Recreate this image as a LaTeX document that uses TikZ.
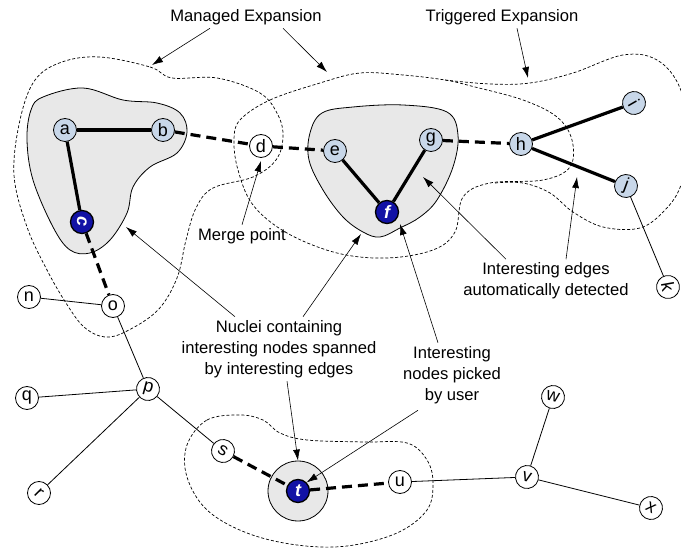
\documentclass[tikz,border=0pt]{standalone}
\usepackage{fontspec}
\setmainfont{Liberation Sans}
\usetikzlibrary{arrows.meta}
\definecolor{seedblue}{RGB}{200,215,233}
\definecolor{pickblue}{RGB}{18,18,165}
\definecolor{coregrey}{RGB}{232,232,232}

\begin{document}
\begin{tikzpicture}[x=1pt,y=-1pt,
    vert/.style={circle,draw,line width=0.8pt,inner sep=0pt,minimum size=23pt,
      font=\fontsize{18}{18}\selectfont},
    seed/.style={vert,fill=seedblue},
    plain/.style={vert,fill=white},
    picked/.style={vert,fill=pickblue,text=white,line width=1.3pt,
      font=\fontsize{18}{18}\selectfont\bfseries\itshape},
    strong/.style={line width=3.2pt},
    weak/.style={line width=0.8pt},
    bridge/.style={line width=3.2pt,dash pattern=on 10pt off 6pt},
    expansion/.style={line width=0.7pt,dash pattern=on 3pt off 2pt},
    nucleus/.style={fill=coregrey,draw,line width=0.8pt},
    callout/.style={-{Latex[length=11pt,width=7pt]},line width=0.6pt},
    note/.style={font=\fontsize{16.6}{21}\selectfont,align=center}]
  \useasboundingbox (0,0) rectangle (681,548);

  % expansions
  \draw[expansion] plot[smooth cycle,tension=0.6] coordinates {
    (100,57) (150,67) (172,78) (217,78) (260,93) (278,115) (283,137)
    (276,160) (253,177) (213,188) (196,208) (186,240) (177,278) (158,310)
    (127,331) (105,337) (84,327) (66,303) (47,270) (27,227) (14,175)
    (20,120) (35,80) (62,62)};
  \draw[expansion] plot[smooth cycle,tension=0.6] coordinates {
    (240,120) (270,100) (320,83) (360,73) (403,75) (445,80) (475,87)
    (523,100) (557,117) (572,140) (570,167) (543,180) (490,183) (463,197)
    (455,232) (433,250) (387,258) (337,253) (287,233) (253,205) (238,170)
    (234,140)};
  \draw[expansion] plot[smooth,tension=0.6] coordinates {
    (445,80) (490,84) (530,83) (573,73) (623,55) (657,60) (680,88)
    (690,140) (681,185) (665,210) (640,228) (603,227) (573,212) (550,193)
    (523,183) (495,183)};
  \draw[expansion] plot[smooth cycle,tension=0.6] coordinates {
    (187,445) (207,420) (240,415) (263,420) (280,433) (307,440) (363,442)
    (407,443) (427,460) (433,483) (427,510) (397,533) (347,546) (297,545)
    (247,533) (207,510) (187,477)};

  % nuclei
  \draw[nucleus] plot[smooth cycle,tension=0.6] coordinates {
    (43,97) (83,88) (123,100) (157,103) (180,113) (187,132) (177,153)
    (150,167) (133,187) (127,213) (110,240) (90,253) (70,250) (53,227)
    (33,180) (27,140) (31,110)};
  \draw[nucleus] plot[smooth cycle,tension=0.6] coordinates {
    (310,133) (322,113) (353,107) (403,105) (447,112) (458,135) (453,167)
    (437,200) (420,217) (400,228) (380,237) (363,232) (343,217) (323,190)
    (309,160)};
  \node[nucleus,circle,minimum size=60pt] (core) at (298,491) {};

  % vertices
  \node[seed] (a) at (65,130) {a};
  \node[seed] (b) at (163,130) {b};
  \node[picked,rotate=-90] (c) at (82,222) {c};
  \node[plain] (d) at (261,146) {d};
  \node[seed] (e) at (335,151) {e};
  \node[picked] (f) at (387,212) {f};
  \node[seed] (g) at (431,140) {g};
  \node[seed] (h) at (521,144) {h};
  \node[seed,rotate=-60] (i) at (634,103) {i};
  \node[seed,rotate=-20] (j) at (626,186) {j};
  \node[plain,rotate=-80] (k) at (668,287) {k};
  \node[plain] (n) at (29,297) {n};
  \node[plain] (o) at (113,306) {o};
  \node[plain,rotate=-15] (p) at (148,389) {p};
  \node[plain] (q) at (27,398) {q};
  \node[plain,rotate=-45] (r) at (39,493) {r};
  \node[plain,rotate=-30] (s) at (223,451) {s};
  \node[picked] (t) at (298,491) {t};
  \node[plain] (u) at (400,482) {u};
  \node[plain,rotate=-15] (v) at (527,477) {v};
  \node[plain,rotate=-15] (w) at (553,397) {w};
  \node[plain,rotate=-30] (x) at (651,508) {x};

  % edges
  \draw[strong] (a) -- (b);
  \draw[strong] (a) -- (c);
  \draw[strong] (e) -- (f);
  \draw[strong] (f) -- (g);
  \draw[strong] (h) -- (i);
  \draw[strong] (h) -- (j);
  \draw[bridge] (b) -- (d);
  \draw[bridge] (d) -- (e);
  \draw[bridge] (g) -- (h);
  \draw[bridge] (c) -- (o);
  \draw[bridge] (s) -- (t);
  \draw[bridge] (t) -- (u);
  \draw[weak] (j) -- (k);
  \draw[weak] (n) -- (o);
  \draw[weak] (o) -- (p);
  \draw[weak] (q) -- (p);
  \draw[weak] (r) -- (p);
  \draw[weak] (p) -- (s);
  \draw[weak] (u) -- (v);
  \draw[weak] (v) -- (w);
  \draw[weak] (v) -- (x);

  % labels
  \node[note] (managed) at (246,17) {Managed Expansion};
  \node[note] (triggered) at (502,17) {Triggered Expansion};
  \node[note] (merge) at (242,236) {Merge point};
  \node[note] (nuclei) at (279,349) {Nuclei containing\\interesting nodes spanned\\by interesting edges};
  \node[note] (detected) at (546,281) {Interesting edges\\automatically detected};
  \node[note] (pickednote) at (452,375) {Interesting\\nodes picked\\by user};

  % callout tips
  \coordinate (tipman1) at (152,65);
  \coordinate (tipman2) at (327,72);
  \coordinate (tiptrig) at (528,78);
  \coordinate (tipcore1) at (126,227);
  \coordinate (tipcore2) at (361,234);
  \coordinate (tipedge1) at (423,177);
  \coordinate (tipedge2) at (577,177);
  \coordinate (tippickf) at (400,224);

  % callouts
  \draw[callout] ([xshift=-36pt]managed.south) -- (tipman1);
  \draw[callout] ([xshift=37pt]managed.south) -- (tipman2);
  \draw[callout] ([xshift=15pt]triggered.south) -- (tiptrig);
  \draw[callout] (merge.north) -- ([yshift=-3pt]d.south);
  \draw[callout] ([xshift=-44pt]nuclei.north) -- (tipcore1);
  \draw[callout] ([xshift=24pt]nuclei.north) -- (tipcore2);
  \draw[callout] ([xshift=8pt]nuclei.south) -- (core.north);
  \draw[callout] ([xshift=-40pt]detected.north) -- (tipedge1);
  \draw[callout] ([xshift=20pt]detected.north) -- (tipedge2);
  \draw[callout] ([xshift=-14pt]pickednote.north) -- (tippickf);
  \draw[callout] ([xshift=-34pt,yshift=-3pt]pickednote.south) -- (t.north east);
\end{tikzpicture}
\end{document}
